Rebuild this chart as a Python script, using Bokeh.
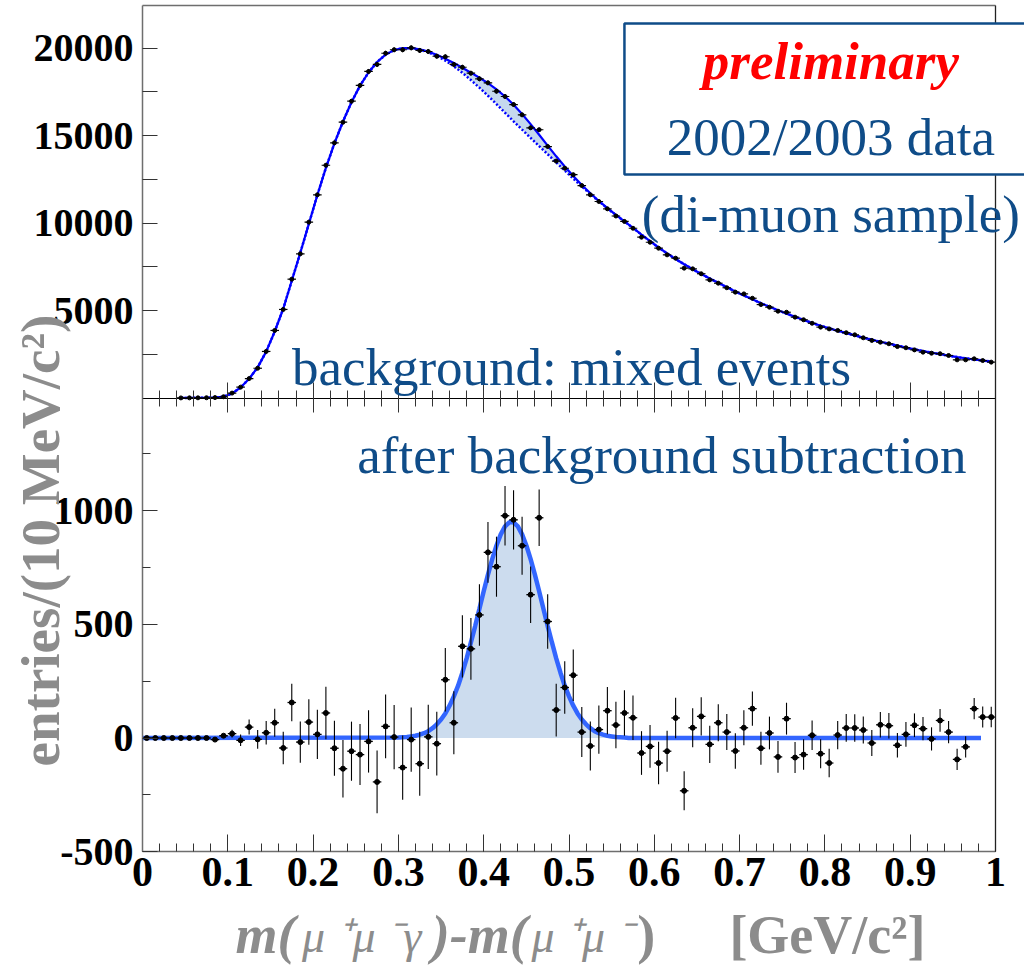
import math
from bokeh.plotting import figure
from bokeh.models import Range1d, LinearAxis, FixedTicker, Label, BoxAnnotation, ColumnDataSource
from bokeh.embed import file_html
from bokeh.resources import INLINE

# ---------------- data ----------------
BIN_WIDTH = 0.01          # 10 MeV bins
TOP_FIRST_BIN = 4         # first filled bin of the upper histogram

# upper panel: di-muon + photon candidates (entries per bin), bins 4..99
top_counts = [5, 8, 10, 15, 25, 70, 280, 620, 1110, 1700,
              2660, 3860, 5060, 6790, 8240, 10050, 11610, 13300, 14580, 15760,
              16960, 17860, 18660, 19060, 19700, 19900, 19900, 20010, 19860, 19800,
              19530, 19500, 19060, 18900, 18560, 18240, 18010, 17530, 17230, 16770,
              16180, 15440, 15330, 14370, 13540, 13130, 12760, 12140, 11610, 11230,
              10810, 10400, 10090, 9700, 9190, 8900, 8560, 8180, 7990, 7420,
              7380, 7100, 6750, 6560, 6300, 6050, 5950, 5700, 5340, 5190,
              4960, 4900, 4620, 4470, 4270, 4050, 3950, 3860, 3730, 3610,
              3440, 3290, 3190, 3100, 2940, 2870, 2750, 2620, 2560, 2530,
              2430, 2180, 2180, 2240, 2140, 2050]
# upper panel: full fit (solid) and mixed-event background (dotted), bins 4..99
top_fit = [5, 8, 11, 16, 28, 75, 260, 600, 1100, 1750,
           2650, 3800, 5100, 6700, 8300, 9950, 11600, 13150, 14550, 15800,
           16900, 17850, 18600, 19200, 19620, 19880, 19990, 20000, 19920, 19790,
           19610, 19390, 19140, 18870, 18590, 18300, 17990, 17640, 17230, 16760,
           16230, 15650, 15040, 14420, 13810, 13230, 12680, 12170, 11700, 11260,
           10850, 10460, 10090, 9720, 9330, 8960, 8600, 8260, 7940, 7640,
           7360, 7090, 6830, 6580, 6330, 6090, 5860, 5640, 5420, 5210,
           5010, 4820, 4640, 4460, 4290, 4130, 3980, 3840, 3710, 3580,
           3450, 3330, 3210, 3100, 2990, 2880, 2780, 2680, 2590, 2500,
           2420, 2340, 2270, 2200, 2140, 2080]
top_bkg = [5, 8, 11, 16, 28, 75, 260, 600, 1100, 1750,
           2650, 3800, 5100, 6700, 8300, 9950, 11600, 13150, 14550, 15800,
           16900, 17850, 18600, 19200, 19620, 19880, 19987, 19993, 19905, 19760,
           19550, 19282, 18957, 18583, 18170, 17732, 17272, 16794, 16300, 15812,
           15335, 14864, 14395, 13928, 13460, 13000, 12538, 12089, 11657, 11239,
           10840, 10456, 10090, 9720, 9330, 8960, 8600, 8260, 7940, 7640,
           7360, 7090, 6830, 6580, 6330, 6090, 5860, 5640, 5420, 5210,
           5010, 4820, 4640, 4460, 4290, 4130, 3980, 3840, 3710, 3580,
           3450, 3330, 3210, 3100, 2990, 2880, 2780, 2680, 2590, 2500,
           2420, 2340, 2270, 2200, 2140, 2080]

# lower panel: after background subtraction, bins 0..99
sub_counts = [0, 0, 0, 0, 0, 0, 0, 0, -7, 10,
              19, -10, 48, -6, 23, 67, -44, 156, -18, 70,
              16, 110, -45, -135, -58, -73, -15, -193, 51, 4,
              -130, -7, -113, 5, -25, 256, 67, 403, 392, 541,
              816, 753, 977, 959, 845, 630, 968, 512, 123, 222,
              276, 26, -35, 37, 120, 57, 110, 89, -66, -37,
              -110, -58, 88, -232, 45, 95, -28, 67, 26, -57,
              45, 129, -45, 22, -83, 85, -86, -73, 12, -69,
              -110, 13, 44, 44, 35, -22, 58, 54, -32, 16,
              56, 41, -4, 77, 26, -94, -39, 129, 92, 92]
sub_err = [0, 0, 0, 0, 0, 0, 0, 0, 5, 8,
           17, 25, 33, 41, 52, 62, 71, 82, 91, 100,
           108, 115, 121, 126, 130, 134, 137, 138, 140, 141,
           141, 141, 141, 141, 140, 140, 138, 137, 136, 135,
           134, 132, 131, 130, 127, 124, 124, 120, 116, 115,
           113, 110, 108, 106, 104, 102, 100, 98, 96, 94,
           93, 90, 89, 86, 86, 84, 82, 81, 79, 78,
           77, 75, 73, 72, 70, 70, 68, 67, 65, 64,
           63, 62, 61, 60, 59, 57, 56, 56, 54, 54,
           52, 51, 51, 50, 49, 47, 47, 47, 46, 45]

# signal fit (Gaussian) in the lower panel
sig_x = [0.0, 0.300, 0.305, 0.310, 0.315, 0.320, 0.325, 0.330, 0.335, 0.340, 0.345,
         0.350, 0.355, 0.360, 0.365, 0.370, 0.375, 0.380, 0.385, 0.390, 0.395,
         0.400, 0.405, 0.410, 0.415, 0.420, 0.425, 0.430, 0.435, 0.440, 0.445,
         0.450, 0.455, 0.460, 0.465, 0.470, 0.475, 0.480, 0.485, 0.490, 0.495,
         0.500, 0.505, 0.510, 0.515, 0.520, 0.525, 0.530, 0.535, 0.540, 0.545,
         0.550, 0.555, 0.560, 0.565, 0.570, 0.983]
sig_fit = [0, 2, 3, 4, 7, 10, 15, 21, 30, 43, 60,
           81, 108, 142, 183, 230, 287, 350, 420, 492, 568,
           645, 718, 786, 846, 895, 930, 948, 948, 930, 895,
           846, 786, 718, 645, 568, 492, 420, 350, 287, 230,
           183, 142, 108, 81, 60, 43, 30, 21, 15, 10,
           7, 4, 3, 2, 0, 0]

x_ticks = [0, 0.1, 0.2, 0.3, 0.4, 0.5, 0.6, 0.7, 0.8, 0.9, 1.0]
x_tick_labels = ["0", "0.1", "0.2", "0.3", "0.4", "0.5", "0.6", "0.7", "0.8", "0.9", "1"]
top_y_ticks = [5000, 10000, 15000, 20000]
top_y_labels = ["5000", "10000", "15000", "20000"]
top_y_minor = [2500, 7500, 12500, 17500]
bot_y_ticks = [-500, 0, 500, 1000]
bot_y_labels = ["-500", "0", "500", "1000"]
bot_y_minor = [-250, 250, 750, 1250]

# ---------------- derived columns ----------------
top_x = [round((TOP_FIRST_BIN + i + 0.5) * BIN_WIDTH, 4) for i in range(len(top_counts))]
sub_x = [round((i + 0.5) * BIN_WIDTH, 4) for i in range(len(sub_counts))]
top_err = sub_err[TOP_FIRST_BIN:]
half = BIN_WIDTH / 2

top_src = ColumnDataSource(dict(
    x=top_x, y=top_counts, fit=top_fit, bkg=top_bkg,
    x0=[v - half for v in top_x], x1=[v + half for v in top_x],
    ylo=[c - e for c, e in zip(top_counts, top_err)],
    yhi=[c + e for c, e in zip(top_counts, top_err)]))
sub_src = ColumnDataSource(dict(
    x=sub_x, y=sub_counts,
    x0=[v - half for v in sub_x], x1=[v + half for v in sub_x],
    ylo=[c - e for c, e in zip(sub_counts, sub_err)],
    yhi=[c + e for c, e in zip(sub_counts, sub_err)]))
sig_src = ColumnDataSource(dict(x=sig_x, y=sig_fit, z=[0] * len(sig_x)))

# ---------------- figure (frame covers the whole canvas; axes are placed inside) ----------------
W, H = 1024, 966
X_LEFT_PX, X_RIGHT_PX = 142.0, 995.0            # pixel columns of x = 0 and x = 1
PX_PER_X = X_RIGHT_PX - X_LEFT_PX
BOT_ZERO_PX, BOT_PX_PER_UNIT = 737.5, 0.2275     # lower panel: y pixel of 0, pixels per entry
TOP_ZERO_PX, TOP_PX_PER_UNIT = 397.5, 0.0175     # upper panel

x_range = Range1d(-X_LEFT_PX / PX_PER_X, (W - X_LEFT_PX) / PX_PER_X)
y_range = Range1d((BOT_ZERO_PX - H) / BOT_PX_PER_UNIT, BOT_ZERO_PX / BOT_PX_PER_UNIT)
top_range = Range1d((TOP_ZERO_PX - H) / TOP_PX_PER_UNIT, TOP_ZERO_PX / TOP_PX_PER_UNIT)

BOT_TOP = 1493      # top edge of the lower panel (lower-panel units)
FRAME_TOP = 3220    # top edge of the upper panel (lower-panel units)
TOP_TOP = 22429     # top edge of the upper panel (upper-panel units)

p = figure(width=W, height=H, output_backend="svg", toolbar_location=None,
           x_range=x_range, y_range=y_range, x_axis_type=None, y_axis_type=None,
           min_border_left=0, min_border_right=0, min_border_top=0, min_border_bottom=0)
p.extra_y_ranges = {"top": top_range}
p.background_fill_color = "white"
p.border_fill_color = "white"
p.outline_line_color = None

SERIF = "Liberation Serif"
BLUE_TXT = "#0f4c88"
GREY = "#8c8c8c"


def style_axis(ax, size="40px"):
    ax.major_label_text_font = SERIF
    ax.major_label_text_font_style = "bold"
    ax.major_label_text_font_size = size
    ax.major_label_text_color = "black"
    ax.axis_line_color = "#6e6e6e"
    ax.axis_line_width = 1.5
    ax.major_tick_line_color = "#333333"
    ax.minor_tick_line_color = "#333333"
    ax.major_tick_out = 0
    ax.minor_tick_out = 0


# lower y axis
yb = LinearAxis(fixed_location=0, bounds=(-500, BOT_TOP),
                ticker=FixedTicker(ticks=bot_y_ticks, minor_ticks=bot_y_minor),
                major_label_overrides=dict(zip(bot_y_ticks, bot_y_labels)))
style_axis(yb)
yb.major_tick_in = 15
yb.minor_tick_in = 8
yb.major_label_standoff = 9
p.add_layout(yb, "left")

# upper y axis
yt = LinearAxis(y_range_name="top", fixed_location=0, bounds=(0, TOP_TOP),
                ticker=FixedTicker(ticks=top_y_ticks, minor_ticks=top_y_minor),
                major_label_overrides=dict(zip(top_y_ticks, top_y_labels)))
style_axis(yt)
yt.major_tick_in = 15
yt.minor_tick_in = 15
yt.major_label_standoff = 9
p.add_layout(yt, "left")

x_minor = [round(i * 0.02, 2) for i in range(51)]
# lower x axis
xb = LinearAxis(fixed_location=-500, bounds=(0, 1),
                ticker=FixedTicker(ticks=x_ticks, minor_ticks=x_minor),
                major_label_overrides=dict(zip(x_ticks, x_tick_labels)))
style_axis(xb, "42px")
xb.major_tick_in = 17
xb.minor_tick_in = 8
xb.major_label_standoff = 6
p.add_layout(xb, "below")

# axis between the two panels
xm = LinearAxis(fixed_location=BOT_TOP, bounds=(0, 1),
                ticker=FixedTicker(ticks=x_ticks, minor_ticks=x_minor))
xm.axis_line_color = "black"
xm.axis_line_width = 1.2
xm.major_tick_in = 16
xm.major_tick_out = 14
xm.minor_tick_in = 8
xm.minor_tick_out = 8
xm.major_tick_line_color = "#333333"
xm.minor_tick_line_color = "#333333"
xm.major_label_text_color = None
p.add_layout(xm, "below")

# top and right borders of the frame
xt = LinearAxis(fixed_location=FRAME_TOP, bounds=(0, 1), ticker=FixedTicker(ticks=[]))
xt.axis_line_color = "#6e6e6e"
xt.axis_line_width = 1.5
xt.major_tick_in = 0
xt.major_tick_out = 0
xt.minor_tick_in = 0
xt.minor_tick_out = 0
xt.major_label_text_color = None
p.add_layout(xt, "above")

yr = LinearAxis(fixed_location=1, bounds=(-500, FRAME_TOP), ticker=FixedTicker(ticks=[]))
yr.axis_line_color = "#222222"
yr.axis_line_width = 1.3
yr.major_tick_in = 0
yr.major_tick_out = 0
yr.minor_tick_in = 0
yr.minor_tick_out = 0
yr.major_label_text_color = None
p.add_layout(yr, "right")

# ---------------- upper panel ----------------
p.varea(x="x", y1="bkg", y2="fit", source=top_src, fill_color="#c5d8ee", y_range_name="top")
p.line(x="x", y="bkg", source=top_src, line_color="#0000ff", line_width=2.5,
       line_dash="2 2", y_range_name="top")
p.line(x="x", y="fit", source=top_src, line_color="#0000ff", line_width=2.2, y_range_name="top")
p.segment(x0="x", y0="ylo", x1="x", y1="yhi", source=top_src, line_color="black",
          line_width=1, y_range_name="top")
p.segment(x0="x0", y0="y", x1="x1", y1="y", source=top_src, line_color="black",
          line_width=1.2, y_range_name="top")
p.scatter(x="x", y="y", source=top_src, size=4, color="black", y_range_name="top")

# ---------------- lower panel ----------------
p.varea(x="x", y1="z", y2="y", source=sig_src, fill_color="#ccdcee")
p.line(x="x", y="y", source=sig_src, line_color="#3366ff", line_width=4.5)
p.segment(x0="x", y0="ylo", x1="x", y1="yhi", source=sub_src, line_color="black", line_width=1.1)
p.segment(x0="x0", y0="y", x1="x1", y1="y", source=sub_src, line_color="black", line_width=1.3)
p.scatter(x="x", y="y", source=sub_src, size=5, color="black")

# ---------------- annotations ----------------
box = BoxAnnotation(left=0.565, right=1.2, bottom=12771, top=21400, y_range_name="top",
                    fill_color="white", fill_alpha=1.0, line_color=BLUE_TXT, line_alpha=1.0,
                    line_width=2.5)
p.add_layout(box)


def add_text(txt, x, y, size="53px", color=BLUE_TXT, style="normal", align="center",
             yname="default", angle=0.0, baseline="alphabetic"):
    lab = Label(x=x, y=y, text=txt, text_font=SERIF, text_font_size=size,
                text_font_style=style, text_color=color, text_align=align,
                text_baseline=baseline, angle=angle)
    if yname != "default":
        lab.y_range_name = yname
    p.add_layout(lab)
    return lab


add_text("preliminary", 0.807, 19229, color="#ff0000", style="bold italic", yname="top")
add_text("2002/2003 data", 0.807, 14886, yname="top")
add_text("(di-muon sample)", 0.807, 10486, yname="top")
add_text("background: mixed events", 0.503, 1743, yname="top")
add_text("after background subtraction", 0.609, 1246)

# y axis title
add_text("entries/(10 MeV/c²)", -0.119, 868, size="55px", color=GREY, style="bold",
         angle=math.pi / 2, baseline="middle")

# x axis title, in pieces
XB_BIG = -864
XB_SMALL = -872
add_text("m(", 0.109, XB_BIG, size="54px", color=GREY, style="bold italic", align="left")
add_text("μ ⁺μ ⁻γ", 0.187, XB_SMALL, size="46px", color=GREY, style="italic", align="left")
add_text(")-m(", 0.339, XB_BIG, size="54px", color=GREY, style="bold italic", align="left")
add_text("μ ⁺μ ⁻", 0.456, XB_SMALL, size="46px", color=GREY, style="italic", align="left")
add_text(")", 0.580, XB_BIG, size="54px", color=GREY, style="bold", align="left")
add_text("[GeV/c²]", 0.9179, XB_BIG, size="54px", color=GREY, style="bold", align="right")

open("out.html", "w").write(file_html(p, INLINE))
